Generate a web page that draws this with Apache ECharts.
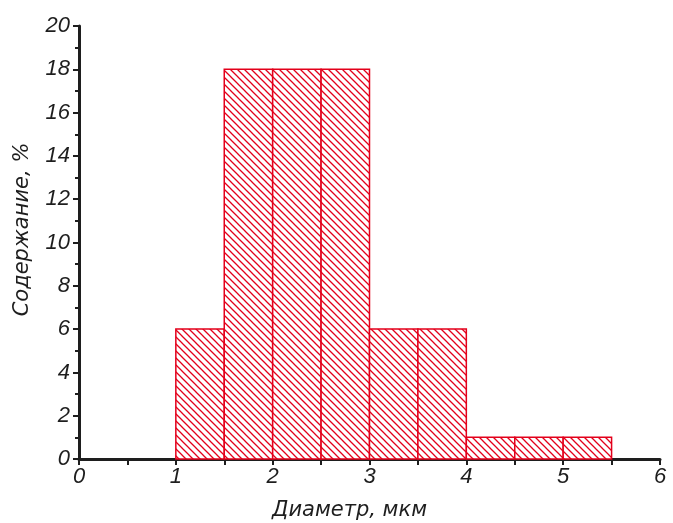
<!DOCTYPE html>
<html>
<head>
<meta charset="utf-8">
<script src="https://cdn.jsdelivr.net/npm/echarts@6/dist/echarts.min.js"></script>
<style>
  html, body { margin: 0; padding: 0; background: #fff; }
  #chart { width: 673px; height: 523px; }
</style>
</head>
<body>
<div id="chart"></div>
<script>
// bins of the histogram (diameter, um) and their share, %
var binStart = [1, 1.5, 2, 2.5, 3, 3.5, 4, 4.5, 5];
var binEnd = [1.5, 2, 2.5, 3, 3.5, 4, 4.5, 5, 5.5];
var values = [6, 18, 18, 18, 6, 6, 1, 1, 1];
var xTicks = [0, 1, 2, 3, 4, 5, 6];
var yTicks = [0, 2, 4, 6, 8, 10, 12, 14, 16, 18, 20];

var red = "#e3001b";
var ink = "#1e1e1e";
var numFont = "'Liberation Sans', sans-serif";
var titleFont = "'DejaVu Sans', sans-serif";

// hatch pattern "\\\"
var makeHatch = function() {
  var s = 7;
  var c = document.createElement("canvas");
  c.width = s;
  c.height = s;
  var ctx = c.getContext("2d");
  ctx.fillStyle = "#fff";
  ctx.fillRect(0, 0, s, s);
  ctx.strokeStyle = red;
  ctx.lineWidth = 1.3;
  ctx.beginPath();
  ctx.moveTo(-1, -1);
  ctx.lineTo(s + 1, s + 1);
  ctx.moveTo(-2, s - 2);
  ctx.lineTo(2, s + 2);
  ctx.moveTo(s - 2, -2);
  ctx.lineTo(s + 2, 2);
  ctx.stroke();
  return c;
};
var hatch = makeHatch();

var data = binStart.map(function(b, i) {
  return [b, binEnd[i], values[i]];
});

var myChart = echarts.init(document.getElementById("chart"));

var option = {
  animation: false,
  grid: { left: 79, right: 13, top: 26, bottom: 64, outerBoundsMode: "none" },
  xAxis: {
    type: "value",
    min: 0,
    max: 6,
    interval: 1,
    name: "Диаметр, мкм",
    nameLocation: "middle",
    nameGap: 41,
    nameTextStyle: { fontFamily: titleFont, fontStyle: "italic", fontSize: 21, color: ink, padding: [0, 40, 0, 0] },
    axisLine: { lineStyle: { color: ink, width: 3 } },
    axisTick: { show: true, length: 6, lineStyle: { color: ink, width: 2 } },
    minorTick: { show: true, splitNumber: 2, length: 6, lineStyle: { color: ink, width: 2 } },
    axisLabel: {
      fontFamily: numFont, fontStyle: "italic", fontSize: 22, color: ink, margin: 7,
      formatter: function(v) { return xTicks.indexOf(v) >= 0 ? String(v) : ""; }
    },
    splitLine: { show: false }
  },
  yAxis: {
    type: "value",
    min: 0,
    max: 20,
    interval: 2,
    name: "Содержание, %",
    nameLocation: "middle",
    nameGap: 46,
    nameTextStyle: { fontFamily: titleFont, fontStyle: "italic", fontSize: 21, color: ink, padding: [0, 0, 0, 26] },
    axisLine: { show: true, lineStyle: { color: ink, width: 3 } },
    axisTick: { show: true, length: 6, lineStyle: { color: ink, width: 2 } },
    minorTick: { show: true, splitNumber: 2, length: 4, lineStyle: { color: ink, width: 2 } },
    axisLabel: {
      fontFamily: numFont, fontStyle: "italic", fontSize: 22, color: ink, margin: 9,
      formatter: function(v) { return yTicks.indexOf(v) >= 0 ? String(v) : ""; }
    },
    splitLine: { show: false }
  },
  series: [
    {
      type: "custom",
      data: data,
      encode: { x: [0, 1], y: 2 },
      renderItem: function(params, api) {
        var p0 = api.coord([api.value(0), api.value(2)]);
        var p1 = api.coord([api.value(1), 0]);
        return {
          type: "rect",
          shape: { x: p0[0], y: p0[1], width: p1[0] - p0[0], height: p1[1] - p0[1] },
          style: {
            fill: { image: hatch, repeat: "repeat" },
            stroke: red,
            lineWidth: 1.5
          }
        };
      }
    }
  ]
};

myChart.setOption(option);
</script>
</body>
</html>
